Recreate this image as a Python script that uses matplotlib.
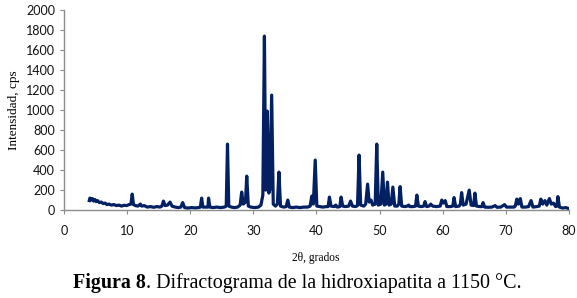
import matplotlib
matplotlib.use("Agg")
import matplotlib.pyplot as plt

# 2theta (degrees) and intensity (cps)
two_theta = [
    4.0, 4.1, 4.3, 4.5, 4.7, 4.9, 5.1, 5.3, 5.6, 5.9, 6.2, 6.5, 6.8, 7.1, 7.5, 7.9,
    8.3, 8.7, 9.1, 9.5, 9.9, 10.3, 10.6, 10.8, 11.0, 11.3, 11.7, 12.1, 12.3, 12.7,
    13.2, 13.7, 14.2, 14.7, 15.2, 15.5, 15.75, 16.0, 16.4, 16.8, 17.1, 17.6, 18.1,
    18.5, 18.8, 19.1, 19.6, 20.2, 20.8, 21.3, 21.6, 21.8, 22.0, 22.5, 22.8, 22.9,
    23.1, 23.6, 24.2, 24.8, 25.4, 25.7, 25.9, 26.1, 26.5, 27.0, 27.5, 27.9, 28.15,
    28.4, 28.75, 28.95, 29.2, 29.6, 30.2, 30.8, 31.2, 31.5, 31.75, 31.95, 32.2,
    32.45, 32.6, 32.9, 33.15, 33.5, 33.8, 34.05, 34.3, 34.8, 35.2, 35.45, 35.7,
    36.2, 36.8, 37.4, 38.0, 38.6, 39.0, 39.25, 39.5, 39.8, 40.05, 40.5, 41.0, 41.6,
    41.85, 42.05, 42.3, 42.8, 43.05, 43.3, 43.7, 43.9, 44.15, 44.6, 45.1, 45.4,
    45.7, 46.2, 46.5, 46.75, 47.0, 47.5, 47.8, 48.1, 48.35, 48.65, 48.9, 49.3,
    49.55, 49.8, 50.2, 50.5, 50.75, 51.0, 51.25, 51.5, 51.85, 52.1, 52.4, 52.8,
    53.05, 53.25, 53.5, 54.0, 54.4, 54.6, 54.8, 55.3, 55.7, 55.9, 56.15, 56.6,
    57.0, 57.2, 57.45, 57.85, 58.1, 58.4, 59.0, 59.6, 59.85, 60.1, 60.4, 60.65,
    61.2, 61.6, 61.8, 62.05, 62.6, 62.8, 63.0, 63.25, 63.7, 64.2, 64.5, 64.9,
    65.1, 65.35, 65.9, 66.2, 66.4, 66.65, 67.2, 67.8, 68.3, 68.6, 69.2, 69.8,
    70.1, 70.7, 71.3, 71.5, 71.75, 72.0, 72.3, 72.55, 73.1, 73.6, 74.0, 74.3,
    74.9, 75.3, 75.55, 75.85, 76.2, 76.5, 76.9, 77.2, 77.55, 77.9, 78.1, 78.25,
    78.5, 79.0, 79.5, 80.0, 80.2,
]
intensity = [
    95, 120, 100, 115, 90, 105, 85, 95, 75, 80, 65, 70, 55, 60, 50, 55,
    45, 50, 40, 48, 45, 55, 60, 160, 55, 45, 40, 60, 40, 45,
    30, 35, 28, 35, 30, 40, 90, 45, 50, 80, 40, 30, 25,
    30, 75, 25, 20, 25, 22, 25, 30, 120, 30, 30, 30, 120,
    30, 25, 30, 25, 30, 40, 660, 40, 30, 25, 30, 50, 180,
    60, 80, 340, 40, 30, 25, 30, 50, 150, 1740, 200, 990,
    170, 200, 1150, 60, 40, 60, 380, 40, 30, 35, 100, 30,
    25, 30, 25, 30, 30, 40, 140, 60, 500, 40, 35, 30, 35,
    35, 130, 40, 35, 50, 30, 35, 130, 40, 35, 40, 90,
    40, 35, 45, 550, 50, 40, 60, 260, 80, 100, 50, 60,
    660, 50, 60, 380, 50, 60, 280, 50, 60, 230, 40, 40,
    60, 235, 40, 35, 40, 50, 35, 35, 40, 150, 40, 35,
    40, 85, 35, 40, 60, 40, 35, 40, 100, 70, 95, 35,
    35, 40, 125, 35, 40, 60, 175, 50, 60, 200, 50, 45,
    170, 40, 35, 35, 75, 30, 28, 30, 45, 28, 30, 55,
    30, 30, 30, 40, 110, 60, 115, 30, 30, 35, 95, 30,
    35, 40, 110, 60, 95, 50, 115, 60, 70, 35, 40, 135,
    30, 20, 25, 15, 10,
]

x_ticks = [0, 10, 20, 30, 40, 50, 60, 70, 80]
y_ticks = [0, 200, 400, 600, 800, 1000, 1200, 1400, 1600, 1800, 2000]

fig = plt.figure(figsize=(5.77, 2.98), dpi=100)
ax = fig.add_axes([0.111, 0.295, 0.875, 0.671])

ax.plot(two_theta, intensity, color="#032063", linewidth=2.3, solid_joinstyle="round")

ax.set_xlim(0, 80)
ax.set_ylim(0, 2000)
ax.set_xticks(x_ticks)
ax.set_yticks(y_ticks)

for side in ["top", "right"]:
    ax.spines[side].set_visible(False)
for side in ["left", "bottom"]:
    ax.spines[side].set_color("#8c8c8c")
    ax.spines[side].set_linewidth(1.0)
ax.tick_params(axis="both", colors="#8c8c8c", length=3, width=0.8,
               labelcolor="#111111", labelsize=9, direction="out")
for lbl in ax.get_xticklabels() + ax.get_yticklabels():
    lbl.set_family("Lato")
ax.tick_params(axis="x", pad=8)

ax.set_ylabel("Intensidad, cps", family="Liberation Serif", fontsize=9.5, labelpad=4)
fig.text(0.548, 0.133, "2θ, grados", family="Liberation Serif", fontsize=8.3,
         ha="center", va="center")

# caption with bold figure number
t1 = fig.text(0.127, 0.016, "Figura 8", family="Liberation Serif", fontsize=14.4,
              fontweight="bold", ha="left", va="bottom")
ax.annotate(". Difractograma de la hidroxiapatita a 1150 °C.", xy=(1, 0),
            xycoords=t1, ha="left", va="bottom", family="Liberation Serif",
            fontsize=14.4, annotation_clip=False)

fig.savefig("out.png", dpi=100)
